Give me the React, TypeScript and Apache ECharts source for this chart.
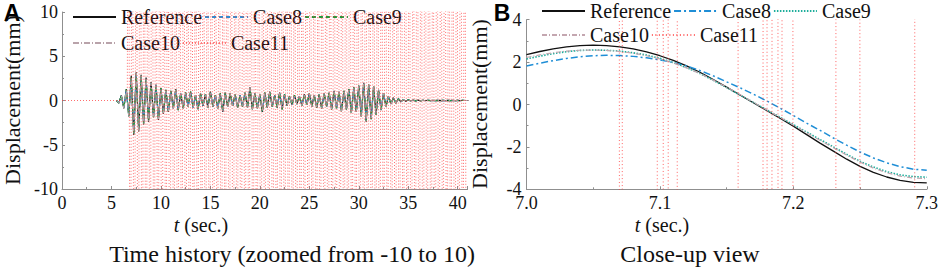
import React, { useEffect, useRef } from 'react';
import * as echarts from 'echarts';

// ---------- Panel A: time history (grid step 0.25 s from 5.5 s) ----------
const histStart = 5.5;
const histStep = 0.25;
const refA = [
  0.0,-0.3,0.6,-0.9,1.3,-1.8,2.8,-3.9,3.2,-3.5,
  2.9,-2.7,2.6,-2.4,2.1,-1.9,1.8,-2.2,1.4,-1.5,
  1.2,-1.3,1.1,-0.9,1.3,-1.1,0.8,-0.9,0.9,-0.7,
  1.0,-0.8,0.6,-1.0,0.8,-0.6,0.7,-0.8,1.0,-0.7,
  0.6,-0.9,0.8,-1.3,0.9,-0.7,0.8,-0.6,0.7,-0.8,
  0.6,-0.7,0.9,-0.8,1.5,-1.0,0.8,-0.9,0.7,-1.3,
  0.9,-0.8,1.0,-0.7,0.6,-0.8,0.9,-1.0,0.7,-0.6,
  0.5,-0.5,0.6,-0.4,0.5,-0.6,0.7,-0.5,0.8,-0.7,
  0.6,-0.8,0.7,-0.9,0.8,-0.7,0.9,-1.0,1.1,-0.9,
  1.0,-1.2,1.1,-1.0,1.3,-1.4,1.5,-1.3,1.7,-1.8,
  2.0,-2.4,1.8,-2.1,1.6,-1.6,1.2,-1.1,0.8,-0.7,
  0.5,-0.4,0.3,-0.3,0.2,-0.15,0.1,-0.1,0.08,-0.06,
  0.05,-0.05,0.04,-0.04,0.03,-0.03,0.03,-0.02,0.02,-0.02,
  0.02,-0.02,0.02,-0.01,0.01,-0.01,0.01,-0.01,0.01,-0.01,
  0.01,0,0,0,0,
];
const case8A = [
  0.0,-0.25,0.55,-0.8,1.2,-1.7,2.4,-3.6,3.0,-3.3,
  2.7,-2.5,2.4,-2.2,2.0,-1.8,1.7,-2.0,1.3,-1.4,
  1.1,-1.2,1.0,-0.9,1.2,-1.0,0.8,-0.8,0.8,-0.7,
  0.9,-0.8,0.6,-0.9,0.7,-0.6,0.7,-0.7,0.9,-0.7,
  0.6,-0.8,0.7,-1.2,0.8,-0.7,0.7,-0.6,0.7,-0.7,
  0.6,-0.7,0.8,-0.8,1.4,-0.9,0.8,-0.8,0.7,-1.2,
  0.8,-0.8,0.9,-0.7,0.6,-0.7,0.8,-0.9,0.7,-0.6,
  0.5,-0.5,0.5,-0.4,0.5,-0.5,0.6,-0.5,0.7,-0.7,
  0.6,-0.7,0.7,-0.8,0.7,-0.7,0.8,-0.9,1.0,-0.9,
  0.9,-1.1,1.0,-1.0,1.2,-1.3,1.4,-1.2,1.6,-1.7,
  1.9,-2.2,1.7,-2.0,1.5,-1.5,1.1,-1.0,0.8,-0.6,
  0.5,-0.4,0.3,-0.25,0.2,-0.15,0.1,-0.08,0.07,-0.06,
  0.05,-0.04,0.04,-0.03,0.03,-0.03,0.02,-0.02,0.02,-0.02,
  0.02,-0.02,0.01,-0.01,0.01,-0.01,0.01,-0.01,0.01,-0.01,
  0.01,0,0,0,0,
];
const case9A = [
  0.0,-0.3,0.6,-0.85,1.25,-1.75,2.6,-3.8,3.1,-3.4,
  2.8,-2.6,2.5,-2.3,2.0,-1.9,1.7,-2.1,1.4,-1.5,
  1.2,-1.2,1.1,-0.9,1.2,-1.1,0.8,-0.9,0.9,-0.7,
  1.0,-0.8,0.6,-1.0,0.8,-0.6,0.7,-0.8,0.9,-0.7,
  0.6,-0.9,0.8,-1.2,0.9,-0.7,0.8,-0.6,0.7,-0.8,
  0.6,-0.7,0.9,-0.8,1.4,-1.0,0.8,-0.9,0.7,-1.3,
  0.9,-0.8,1.0,-0.7,0.6,-0.8,0.9,-1.0,0.7,-0.6,
  0.5,-0.5,0.6,-0.4,0.5,-0.6,0.7,-0.5,0.8,-0.7,
  0.6,-0.8,0.7,-0.9,0.8,-0.7,0.9,-1.0,1.1,-0.9,
  1.0,-1.2,1.1,-1.0,1.3,-1.4,1.5,-1.3,1.7,-1.8,
  2.0,-2.3,1.8,-2.1,1.6,-1.6,1.2,-1.1,0.8,-0.7,
  0.5,-0.4,0.3,-0.3,0.2,-0.15,0.1,-0.1,0.08,-0.06,
  0.05,-0.05,0.04,-0.04,0.03,-0.03,0.03,-0.02,0.02,-0.02,
  0.02,-0.02,0.02,-0.01,0.01,-0.01,0.01,-0.01,0.01,-0.01,
  0.01,0,0,0,0,
];
const case10A = [
  0.0,-0.3,0.55,-0.85,1.2,-1.7,2.6,-3.7,3.1,-3.4,
  2.8,-2.6,2.5,-2.3,2.0,-1.8,1.7,-2.1,1.3,-1.4,
  1.1,-1.2,1.0,-0.9,1.2,-1.0,0.8,-0.9,0.8,-0.7,
  0.9,-0.8,0.6,-0.9,0.8,-0.6,0.7,-0.8,0.9,-0.7,
  0.6,-0.9,0.7,-1.2,0.9,-0.7,0.8,-0.6,0.7,-0.8,
  0.6,-0.7,0.8,-0.8,1.4,-1.0,0.8,-0.9,0.7,-1.2,
  0.9,-0.8,0.9,-0.7,0.6,-0.8,0.8,-0.9,0.7,-0.6,
  0.5,-0.5,0.6,-0.4,0.5,-0.6,0.6,-0.5,0.8,-0.7,
  0.6,-0.8,0.7,-0.9,0.8,-0.7,0.9,-1.0,1.0,-0.9,
  1.0,-1.2,1.1,-1.0,1.2,-1.4,1.5,-1.3,1.7,-1.8,
  1.9,-2.3,1.8,-2.0,1.6,-1.5,1.2,-1.1,0.8,-0.7,
  0.5,-0.4,0.3,-0.3,0.2,-0.15,0.1,-0.1,0.08,-0.06,
  0.05,-0.05,0.04,-0.04,0.03,-0.03,0.03,-0.02,0.02,-0.02,
  0.02,-0.02,0.02,-0.01,0.01,-0.01,0.01,-0.01,0.01,-0.01,
  0.01,0,0,0,0,
];
// Case11 (diverging): flat lead, then oscillation far beyond the axis range
const case11ALeadTimes = [0, 6.6];
const case11ALeadValues = [0, 0];
const case11AStart = 6.7;
const case11AStep = 0.2;
const case11AValues = [
  42,-38,40,-44,39,-41,43,-40,38,-42,
  41,-39,44,-40,38,-43,40,-41,39,-38,
  43,-42,40,-39,41,-44,38,-40,42,-41,
  39,-43,41,-38,40,-42,44,-39,38,-41,
  40,-40,42,-43,39,-38,41,-44,40,-39,
  43,-41,38,-42,40,-40,39,-43,42,-38,
  41,-39,44,-41,38,-42,40,-43,39,-40,
  42,-38,40,-44,39,-41,43,-40,38,-42,
  41,-39,44,-40,38,-43,40,-41,39,-38,
  43,-42,40,-39,41,-44,38,-40,42,-41,
  39,-43,41,-38,40,-42,44,-39,38,-41,
  40,-40,42,-43,39,-38,41,-44,40,-39,
  43,-41,38,-42,40,-40,39,-43,42,-38,
  41,-39,44,-41,38,-42,40,-43,39,-40,
  42,-38,40,-44,39,-41,43,-40,38,-42,
  41,-39,44,-40,38,-43,40,-41,39,-38,
  43,-42,40,-39,41,-44,38,-40,42,-41,
  39,-43,
];

// ---------- Panel B: close-up (grid step 0.01 s from 7.0 s) ----------
const closeStart = 7.0;
const closeStep = 0.01;
const refB = [
  2.35,2.5,2.62,2.72,2.78,2.8,2.78,2.72,2.62,2.48,
  2.3,2.08,1.82,1.52,1.18,0.82,0.45,0.08,-0.28,-0.65,
  -1.02,-1.42,-1.82,-2.2,-2.58,-2.92,-3.2,-3.42,-3.58,-3.67,
  -3.7,
];
const case8B = [
  1.82,1.95,2.07,2.17,2.25,2.3,2.32,2.31,2.27,2.2,
  2.1,1.98,1.82,1.6,1.35,1.07,0.79,0.49,0.17,-0.17,
  -0.52,-0.88,-1.22,-1.58,-1.92,-2.24,-2.52,-2.75,-2.93,-3.05,
  -3.1,
];
const case9B = [
  2.15,2.28,2.4,2.49,2.55,2.57,2.56,2.52,2.44,2.33,
  2.18,1.98,1.74,1.46,1.14,0.8,0.45,0.1,-0.25,-0.6,
  -0.95,-1.3,-1.65,-2.0,-2.35,-2.68,-2.95,-3.17,-3.32,-3.4,
  -3.43,
];
const case10B = [
  2.22,2.34,2.44,2.52,2.56,2.57,2.55,2.5,2.42,2.3,
  2.15,1.96,1.73,1.46,1.15,0.82,0.47,0.11,-0.25,-0.61,
  -0.97,-1.33,-1.69,-2.04,-2.39,-2.72,-3.0,-3.22,-3.38,-3.47,
  -3.5,
];
const case11BTimes = [
  7.0,7.0693,7.0699,7.0715,7.0721,7.0977,7.0983,7.1022,7.1028,7.1059,
  7.1065,7.1127,7.1133,7.1583,7.1589,7.177,7.1776,7.18,7.1806,7.1837,
  7.1843,7.1882,7.1888,7.1912,7.1918,7.1994,7.2,7.2316,7.2322,7.2496,
  7.2502,7.2907,7.2913,7.3,
];
const case11BValues = [
  60,60,-60,-60,60,60,-60,-60,60,60,
  -60,-60,60,60,-60,-60,60,60,-60,-60,
  60,60,-60,-60,60,60,-60,-60,60,60,
  -60,-60,60,60,
];

const legendRow1 = ['Reference', 'Case8', 'Case9'];
const legendRow2 = ['Case10', 'Case11'];

const FONT = 'Liberation Serif';
const AXIS_GRAY = '#8f8f8f';

const grid = (start: number, step: number, vals: number[]) =>
  vals.map((v, i) => [+(start + i * step).toFixed(4), v]);
const zip = (ts: number[], vs: number[]) => ts.map((t, i) => [t, vs[i]]);

function buildOption(): any {
  const case11A = [
    ...zip(case11ALeadTimes, case11ALeadValues),
    ...grid(case11AStart, case11AStep, case11AValues),
  ];
  const xAxisBase = {
    type: 'value',
    splitLine: { show: false },
    axisLine: { show: true, onZero: false, lineStyle: { color: AXIS_GRAY, width: 1 } },
    axisTick: { show: true, inside: true, length: 3, lineStyle: { color: AXIS_GRAY } },
    minorTick: { show: true, splitNumber: 2, length: 2, lineStyle: { color: AXIS_GRAY } },
  };
  const labelBase = { color: '#111', fontFamily: FONT, fontSize: 18 };
  const legendBase = {
    orient: 'horizontal',
    itemWidth: 43,
    itemHeight: 14,
    itemGap: 2,
    padding: 0,
    selectedMode: false,
    itemStyle: { opacity: 0 },
    textStyle: { fontFamily: FONT, fontSize: 20, color: '#111' },
  };
  const line = (
    name: string, xi: number, data: any[], color: string, width: number, type: any, z: number,
  ) => ({
    name,
    type: 'line',
    xAxisIndex: xi,
    yAxisIndex: xi,
    data,
    symbol: 'none',
    showSymbol: false,
    clip: true,
    z,
    color,
    itemStyle: { color },
    lineStyle: { color, width, type },
  });
  const strip = (n: string) => n.replace(/^B:/, '');
  const titleFont = (size: number) => `${size}px ${FONT}`;

  return {
    animation: false,
    backgroundColor: '#fff',
    textStyle: { fontFamily: FONT },
    grid: [
      { left: 62, top: 12, width: 405.6, height: 177 },
      { left: 526.5, top: 19.7, width: 400.5, height: 169.6 },
    ],
    xAxis: [
      {
        ...xAxisBase, gridIndex: 0, min: 0, max: 41, interval: 5,
        axisLabel: { ...labelBase, margin: 5, showMaxLabel: false },
      },
      {
        ...xAxisBase, gridIndex: 1, min: 7.0, max: 7.3, interval: 0.1,
        axisLabel: { ...labelBase, margin: 5, formatter: (v: number) => v.toFixed(1) },
      },
    ],
    yAxis: [
      {
        ...xAxisBase, gridIndex: 0, min: -10, max: 10, interval: 5,
        axisLabel: { ...labelBase, margin: 4 },
      },
      {
        ...xAxisBase, gridIndex: 1, min: -4, max: 4, interval: 2,
        axisLabel: { ...labelBase, margin: 5 },
      },
    ],
    legend: [
      { ...legendBase, data: legendRow1, left: 72, top: 7 },
      { ...legendBase, data: legendRow2, left: 72, top: 33 },
      { ...legendBase, data: legendRow1.map((n) => 'B:' + n), left: 541, top: 1, formatter: strip },
      { ...legendBase, data: legendRow2.map((n) => 'B:' + n), left: 541, top: 25, formatter: strip },
    ],
    series: [
      line('Reference', 0, grid(histStart, histStep, refA), '#111111', 1.2, 'solid', 2),
      line('Case8', 0, grid(histStart, histStep, case8A), '#2a8fd6', 1.2, [4, 3], 3),
      line('Case9', 0, grid(histStart, histStep, case9A), '#1f9a3a', 1.2, [4, 3], 4),
      line('Case10', 0, grid(histStart, histStep, case10A), '#b9a3aa', 1.0, [6, 2, 1, 2], 5),
      line('Case11', 0, case11A, 'rgba(255,60,60,0.75)', 1.0, [1, 2], 6),

      line('B:Reference', 1, grid(closeStart, closeStep, refB), '#111111', 1.3, 'solid', 2),
      line('B:Case8', 1, grid(closeStart, closeStep, case8B), '#1f8ed6', 1.5, [7, 3, 2, 3], 3),
      line('B:Case9', 1, grid(closeStart, closeStep, case9B), '#1fae9c', 1.6, [1.5, 1.5], 4),
      line('B:Case10', 1, grid(closeStart, closeStep, case10B), '#c4a7b0', 1.2, [5, 2, 1, 2], 5),
      line('B:Case11', 1, zip(case11BTimes, case11BValues), 'rgba(255,60,60,0.8)', 1.0, [1, 2.5], 6),
    ],
    graphic: [
      {
        type: 'text', x: 12, y: 13,
        style: { text: 'A', font: 'bold 23px Liberation Sans', fill: '#000', textAlign: 'center', textVerticalAlign: 'middle' },
      },
      {
        type: 'text', x: 502, y: 13,
        style: { text: 'B', font: 'bold 23px Liberation Sans', fill: '#000', textAlign: 'center', textVerticalAlign: 'middle' },
      },
      {
        type: 'text', x: 12, y: 100, rotation: Math.PI / 2,
        style: { text: 'Displacement(mm)', font: titleFont(22), fill: '#111', textAlign: 'center', textVerticalAlign: 'middle' },
      },
      {
        type: 'text', x: 479, y: 104, rotation: Math.PI / 2,
        style: { text: 'Displacement(mm)', font: titleFont(22), fill: '#111', textAlign: 'center', textVerticalAlign: 'middle' },
      },
      {
        type: 'text', x: 201, y: 225,
        style: {
          text: '{i|t} (sec.)', font: titleFont(20), fill: '#111', textAlign: 'center', textVerticalAlign: 'middle',
          rich: { i: { fontStyle: 'italic', fontFamily: FONT, fontSize: 20, fill: '#111' } },
        },
      },
      {
        type: 'text', x: 662, y: 225,
        style: {
          text: '{i|t} (sec.)', font: titleFont(20), fill: '#111', textAlign: 'center', textVerticalAlign: 'middle',
          rich: { i: { fontStyle: 'italic', fontFamily: FONT, fontSize: 20, fill: '#111' } },
        },
      },
      {
        type: 'text', x: 292, y: 254,
        style: { text: 'Time history (zoomed from -10 to 10)', font: titleFont(24), fill: '#111', textAlign: 'center', textVerticalAlign: 'middle' },
      },
      {
        type: 'text', x: 690, y: 254,
        style: { text: 'Close-up view', font: titleFont(24), fill: '#111', textAlign: 'center', textVerticalAlign: 'middle' },
      },
    ],
  };
}

export default function App() {
  const ref = useRef<HTMLDivElement>(null);
  useEffect(() => {
    if (!ref.current) return;
    const chart = echarts.init(ref.current, undefined, { renderer: 'svg' });
    chart.setOption(buildOption());
    return () => chart.dispose();
  }, []);
  return (
    <div
      ref={ref}
      style={{ position: 'absolute', left: 0, top: 0, width: 941, height: 271, background: '#fff' }}
    />
  );
}
